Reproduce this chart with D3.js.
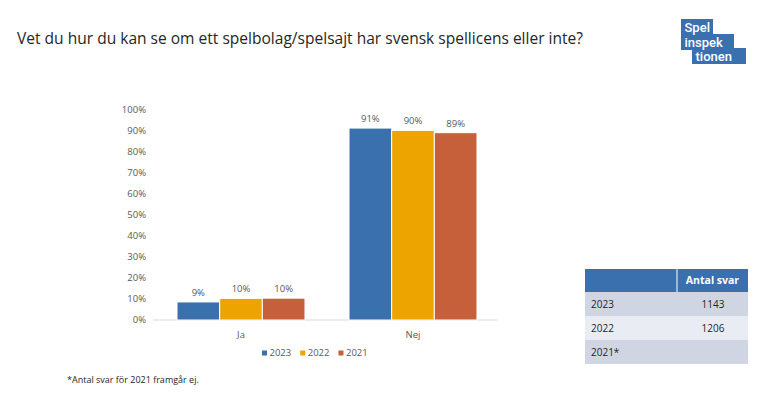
<!DOCTYPE html>
<html>
<head>
<meta charset="utf-8">
<script src="https://cdn.jsdelivr.net/npm/d3@7"></script>
<style>
  html, body { margin: 0; padding: 0; background: #fff; }
  svg { display: block; font-family: "Open Sans", "Noto Sans", sans-serif; }
</style>
</head>
<body>
<svg id="chart" width="760" height="395"></svg>
<script>
// ---- data ----
const categories = ["Ja", "Nej"];
const years = ["2023", "2022", "2021"];
const values2023 = [8.6, 91.4];
const values2022 = [10.3, 90.3];
const values2021 = [10.4, 89.2];
const yTicks = [0, 10, 20, 30, 40, 50, 60, 70, 80, 90, 100];

const tableYears = ["2023", "2022", "2021*"];
const tableCounts = ["1143", "1206", ""];

const colors = { "2023": "#3a70ae", "2022": "#eda400", "2021": "#c5603b" };

const series = [
  { year: "2023", values: values2023 },
  { year: "2022", values: values2022 },
  { year: "2021", values: values2021 }
];

const svg = d3.select("#chart");

// title
const title = svg.append("text")
  .attr("x", 17)
  .attr("y", 44)
  .style("font-size", "17.5px")
  .style("fill", "#262626")
  .text("Vet du hur du kan se om ett spelbolag/spelsajt har svensk spellicens eller inte?");
// fit title to the width seen in the reference
const tw = title.node().getComputedTextLength();
title.style("font-size", (17.5 * 566 / tw).toFixed(2) + "px");

// ---- scales ----
const x = d3.scaleBand()
  .domain(categories)
  .range([155, 499])
  .paddingInner(0.256)
  .paddingOuter(0.128);

const xs = d3.scaleBand()
  .domain(years)
  .range([0, x.bandwidth()]);

const y = d3.scaleLinear()
  .domain([0, 100])
  .range([320, 110]);

// y tick labels (no axis line)
svg.append("g")
  .selectAll("text")
  .data(yTicks)
  .join("text")
  .attr("x", 146)
  .attr("y", d => y(d))
  .attr("dy", "0.35em")
  .attr("text-anchor", "end")
  .style("font-size", "9.5px")
  .style("fill", "#595959")
  .text(d => d + "%");

// baseline
svg.append("line")
  .attr("x1", 153).attr("x2", 497)
  .attr("y1", y(0)).attr("y2", y(0))
  .attr("stroke", "#d9d9d9")
  .attr("stroke-width", 1);

// bars
const groups = svg.append("g")
  .selectAll("g")
  .data(series)
  .join("g")
  .attr("fill", d => colors[d.year]);

groups.selectAll("rect")
  .data(d => d.values.map((v, i) => ({ year: d.year, cat: categories[i], v })))
  .join("rect")
  .attr("x", d => x(d.cat) + xs(d.year))
  .attr("y", d => y(d.v))
  .attr("width", xs.bandwidth())
  .attr("height", d => y(0) - y(d.v))
  .attr("stroke", "#fff")
  .attr("stroke-width", 1);

// value labels
groups.selectAll("text")
  .data(d => d.values.map((v, i) => ({ year: d.year, cat: categories[i], v })))
  .join("text")
  .attr("x", d => x(d.cat) + xs(d.year) + xs.bandwidth() / 2)
  .attr("y", d => y(d.v) - 6)
  .attr("text-anchor", "middle")
  .style("font-size", "9.5px")
  .style("fill", "#595959")
  .text(d => Math.round(d.v) + "%");

// category labels
svg.append("g")
  .selectAll("text")
  .data(categories)
  .join("text")
  .attr("x", d => x(d) + x.bandwidth() / 2)
  .attr("y", 335)
  .attr("dy", "0.35em")
  .attr("text-anchor", "middle")
  .style("font-size", "9.5px")
  .style("fill", "#595959")
  .text(d => d);

// legend
const legend = svg.append("g").attr("transform", "translate(262,353)");
let lx = 0;
years.forEach(yr => {
  const item = legend.append("g").attr("transform", `translate(${lx},0)`);
  item.append("rect")
    .attr("x", 0).attr("y", -2.5)
    .attr("width", 5).attr("height", 5)
    .attr("fill", colors[yr]);
  const t = item.append("text")
    .attr("x", 7.5)
    .attr("dy", "0.35em")
    .style("font-size", "9.5px")
    .style("fill", "#595959")
    .text(yr);
  lx += 7.5 + t.node().getComputedTextLength() + 9;
});

// footnote
svg.append("text")
  .attr("x", 67)
  .attr("y", 380)
  .attr("dy", "0.35em")
  .style("font-size", "9px")
  .style("fill", "#262626")
  .text("*Antal svar för 2021 framgår ej.");

// ---- table ----
const tbl = svg.append("g");
const tX0 = 585, tX1 = 748, tMid = 677;
const headerTop = 269, headerH = 23, rowH = 24;

tbl.append("rect")
  .attr("x", tX0).attr("y", headerTop)
  .attr("width", tX1 - tX0).attr("height", headerH)
  .attr("fill", "#3a70ae");
tbl.append("line")
  .attr("x1", tMid).attr("x2", tMid)
  .attr("y1", headerTop).attr("y2", headerTop + headerH)
  .attr("stroke", "#fff").attr("stroke-width", 1);
tbl.append("text")
  .attr("x", (tMid + tX1) / 2)
  .attr("y", headerTop + headerH / 2)
  .attr("dy", "0.35em")
  .attr("text-anchor", "middle")
  .style("font-size", "10.5px")
  .style("font-weight", "bold")
  .style("fill", "#fff")
  .text("Antal svar");

const rowFill = ["#cfd5e3", "#e9ecf2", "#cfd5e3"];
tableYears.forEach((yr, i) => {
  const top = headerTop + headerH + i * rowH;
  tbl.append("rect")
    .attr("x", tX0).attr("y", top)
    .attr("width", tX1 - tX0).attr("height", rowH)
    .attr("fill", rowFill[i]);
  tbl.append("text")
    .attr("x", 591)
    .attr("y", top + rowH / 2)
    .attr("dy", "0.35em")
    .style("font-size", "10px")
    .style("fill", "#262626")
    .text(yr);
  tbl.append("text")
    .attr("x", 713)
    .attr("y", top + rowH / 2)
    .attr("dy", "0.35em")
    .attr("text-anchor", "middle")
    .style("font-size", "10px")
    .style("fill", "#262626")
    .text(tableCounts[i]);
});

// ---- logo ----
const logo = svg.append("g").style("font-family", "Roboto, sans-serif");
const logoBlue = "#3a70ae";
const logoParts = [
  { text: "Spel",   x: 681, y: 19, w: 32, h: 17 },
  { text: "inspek", x: 681, y: 34, w: 53, h: 16 },
  { text: "tionen", x: 692, y: 48, w: 54, h: 16 }
];
logoParts.forEach(p => {
  logo.append("rect")
    .attr("x", p.x).attr("y", p.y)
    .attr("width", p.w).attr("height", p.h)
    .attr("fill", logoBlue);
});
logoParts.forEach(p => {
  const t = logo.append("text")
    .attr("x", p.x + 3.5)
    .attr("y", p.y + p.h / 2 + 1)
    .attr("dy", "0.3em")
    .style("font-size", "13px")
    .style("font-weight", 500)
    .style("fill", "#fff")
    .text(p.text);
  // keep each word inside its block
  const w = t.node().getComputedTextLength();
  if (w > p.w - 6) t.attr("textLength", p.w - 6).attr("lengthAdjust", "spacingAndGlyphs");
});
</script>
</body>
</html>
